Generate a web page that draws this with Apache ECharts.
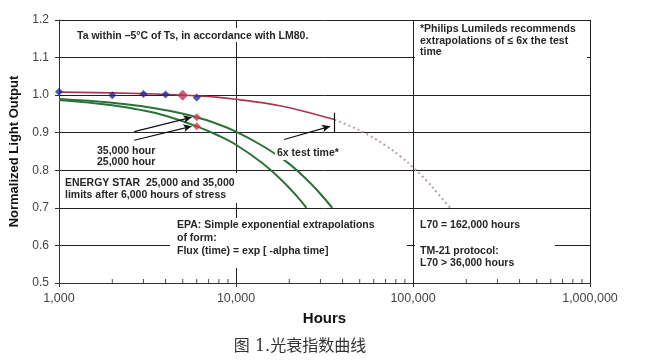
<!DOCTYPE html>
<html><head><meta charset="utf-8">
<script src="https://cdn.jsdelivr.net/npm/echarts@6/dist/echarts.min.js"></script>
<style>html,body{margin:0;padding:0;background:#fff}#c{width:649px;height:363px}</style>
</head><body><div id="c"></div>
<script>
// ---- data ----
const measuredHours = [1000, 2000, 3000, 4000, 6000];
const measuredOutput = [1.009, 1.000, 1.003, 1.002, 0.994];
const highlightHours = [5000];
const highlightOutput = [1.000];
const fitHours = [1000, 2000, 3000, 4000, 5000, 6000, 8000, 10000, 14000, 18000, 22000, 26000, 30000, 36000];
const fitOutput = [1.008, 1.006, 1.004, 1.002, 1.000, 0.998, 0.994, 0.989, 0.980, 0.971, 0.962, 0.953, 0.945, 0.935];
const extrapHours = [36000, 45000, 55000, 70000, 85000, 100000, 120000, 140000, 162000];
const extrapOutput = [0.935, 0.916, 0.896, 0.866, 0.837, 0.808, 0.771, 0.735, 0.700];
const es35Hours = [1000, 2000, 3000, 4000, 6000, 8000, 10000, 14000, 19500, 25000, 30000, 35000];
const es35Output = [0.990, 0.980, 0.970, 0.960, 0.941, 0.922, 0.903, 0.866, 0.821, 0.776, 0.737, 0.700];
const es25Hours = [1000, 2000, 3000, 4000, 6000, 8000, 10000, 14000, 18000, 22000, 25000];
const es25Output = [0.987, 0.973, 0.959, 0.945, 0.917, 0.892, 0.868, 0.820, 0.775, 0.732, 0.700];
const limitHours = [6000, 6000];
const limitOutput = [0.941, 0.917];
const minorTickHours = [2000, 3000, 4000, 5000, 6000, 7000, 8000, 9000,
  20000, 30000, 40000, 50000, 60000, 70000, 80000, 90000,
  200000, 300000, 400000, 500000, 600000, 700000, 800000, 900000];
const arrowStart = [[2660, 0.903], [2660, 0.880], [18700, 0.882]];
const arrowEnd = [[5600, 0.941], [5600, 0.917], [34000, 0.917]];
const testTimeMark = [[36000, 0.953], [36000, 0.900]];
const xMin = 1000, xMax = 1000000;
const yMin = 0.5, yMax = 1.2, yStep = 0.1;

const zip = (a, b) => a.map((v, i) => [v, b[i]]);
const FONT = '"Liberation Sans", Arial, sans-serif';

const chart = echarts.init(document.getElementById('c'));

function txt(text, x, y, opts) {
  return Object.assign({
    type: 'text', x: x, y: y, z: 20, silent: true,
    style: { text: text, font: 'bold 10.5px ' + FONT, fill: '#262626', verticalAlign: 'middle', align: 'left' }
  }, opts || {});
}
function box(x, y, w, h) {
  return { type: 'rect', z: 10, silent: true, shape: { x: x, y: y, width: w, height: h }, style: { fill: '#fff' } };
}

const markData = arrowStart.map((s, i) => [{ coord: s }, { coord: arrowEnd[i] }]);
markData.push([{ coord: testTimeMark[0], symbol: 'none' }, { coord: testTimeMark[1], symbol: 'none' }]);

chart.setOption({
  animation: false,
  backgroundColor: '#fff',
  grid: { left: 58, right: 59, top: 20, bottom: 80, show: false },
  xAxis: {
    type: 'log', logBase: 10, min: xMin, max: xMax,
    name: 'Hours', nameLocation: 'middle', nameGap: 28,
    nameTextStyle: { fontFamily: FONT, fontWeight: 'bold', fontSize: 15, color: '#111' },
    axisLine: { show: true, lineStyle: { color: '#333', width: 1 } },
    axisTick: { show: true, length: 4, lineStyle: { color: '#333' } },
    axisLabel: { fontFamily: FONT, fontSize: 12.5, color: '#444', margin: 9,
      formatter: v => Number(v).toLocaleString('en-US') },
    splitLine: { show: true, lineStyle: { color: '#222', width: 1 } },
    minorTick: { show: false }
  },
  yAxis: {
    type: 'value', min: yMin, max: yMax, interval: yStep,
    name: 'Normalized Light Output', nameLocation: 'middle', nameGap: 38,
    nameTextStyle: { fontFamily: FONT, fontWeight: 'bold', fontSize: 13, color: '#111' },
    axisLine: { show: true, lineStyle: { color: '#333', width: 1 } },
    axisTick: { show: true, length: 4, lineStyle: { color: '#333' } },
    axisLabel: { fontFamily: FONT, fontSize: 12, color: '#444', margin: 10,
      formatter: v => v.toFixed(1) },
    splitLine: { show: true, lineStyle: { color: '#222', width: 1 } }
  },
  series: [
    { name: 'ENERGY STAR 35,000', type: 'line', data: zip(es35Hours, es35Output), smooth: 0.4,
      showSymbol: false, lineStyle: { color: '#2b7238', width: 2 }, silent: true },
    { name: 'ENERGY STAR 25,000', type: 'line', data: zip(es25Hours, es25Output), smooth: 0.4,
      showSymbol: false, lineStyle: { color: '#2b7238', width: 2 }, silent: true },
    { name: 'Fit', type: 'line', data: zip(fitHours, fitOutput), smooth: 0.4,
      showSymbol: false, lineStyle: { color: '#a8344f', width: 1.6 }, silent: true },
    { name: 'Extrapolation', type: 'line', data: zip(extrapHours, extrapOutput), smooth: 0.4,
      showSymbol: false, lineStyle: { color: '#b89ea8', width: 2, type: [2, 3] }, silent: true },
    { name: 'Measured', type: 'scatter', data: zip(measuredHours, measuredOutput),
      symbol: 'diamond', symbolSize: 8, itemStyle: { color: '#1f2c9c' }, silent: true, z: 4 },
    { name: 'Highlight', type: 'scatter', data: zip(highlightHours, highlightOutput),
      symbol: 'diamond', symbolSize: 11, itemStyle: { color: '#c2325e' }, silent: true, z: 5 },
    { name: 'Limits', type: 'scatter', data: zip(limitHours, limitOutput),
      symbol: 'diamond', symbolSize: 8, itemStyle: { color: '#d23a46' }, silent: true, z: 5,
      markLine: { silent: true, symbol: ['none', 'arrow'], symbolSize: [6, 8],
        lineStyle: { color: '#111', width: 1.2, type: 'solid' }, label: { show: false },
        emphasis: { disabled: true }, data: markData } },
    { name: 'MinorTicks', type: 'scatter', data: minorTickHours.map(h => [h, yMin]),
      symbol: 'rect', symbolSize: [1, 4], symbolOffset: [0, -2], itemStyle: { color: '#222' }, silent: true, z: 6 }
  ],
  graphic: [
    box(72, 28, 246, 14),
    box(415, 22, 172, 40),
    box(62, 173, 178, 30),
    box(170, 218, 237, 50),
    box(415, 241, 140, 30),
    box(275, 146, 72, 14),
    txt('Ta within \u20135\u00b0C of Ts, in accordance with LM80.', 77, 36),
    txt('*Philips Lumileds recommends', 420, 29),
    txt('extrapolations of \u2264 6x the test', 420, 41),
    txt('time', 420, 52),
    txt('35,000 hour', 97, 151),
    txt('25,000 hour', 97, 162),
    txt('6x test time*', 277, 153),
    txt('ENERGY STAR  25,000 and 35,000', 65, 183),
    txt('limits after 6,000 hours of stress', 65, 195),
    txt('EPA: Simple exponential extrapolations', 177, 225),
    txt('of form:', 177, 238),
    txt('Flux (time) = exp [ -alpha time]', 177, 251),
    txt('L70 = 162,000 hours', 420, 225),
    txt('TM-21 protocol:', 420, 251),
    txt('L70 > 36,000 hours', 420, 263),
    { type: 'text', x: 300, y: 347, z: 20, silent: true,
      style: { text: '图 1.光衰指数曲线', font: '16px "DejaVu Serif", "Noto Sans CJK SC", serif', fill: '#333',
        align: 'center', verticalAlign: 'middle' } }
  ]
});
</script></body></html>
